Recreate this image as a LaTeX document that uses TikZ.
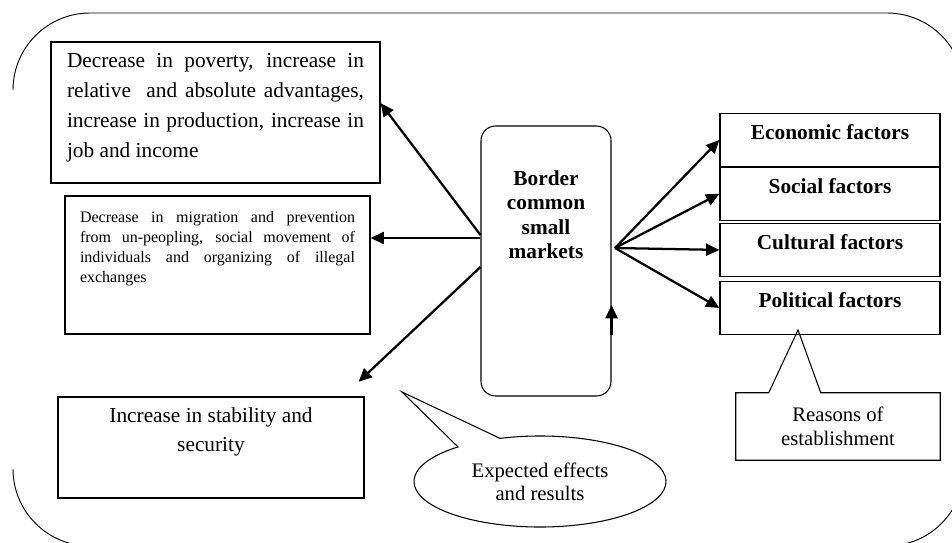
\documentclass[tikz,border=0pt]{standalone}
\usepackage{fontspec}
\setmainfont{Liberation Serif}
\usetikzlibrary{arrows.meta,positioning,shapes.geometric}
\tikzset{
  frame line/.style={draw=black, line width=0.7pt},
  effect box/.style={draw=black, line width=0.9pt, rectangle},
  hub box/.style={draw=black, line width=0.8pt, rounded corners=11pt},
  factor box/.style={draw=black, line width=0.9pt, minimum width=165pt,
    inner sep=0pt, text height=19.5pt, text depth=20pt,
    font=\fontsize{16}{18}\selectfont\bfseries},
  note text/.style={align=center, inner sep=0pt,
    font=\fontsize{15.5}{18}\selectfont},
  note line/.style={draw=black, line width=0.8pt},
  link/.style={line width=1.7pt, -{Triangle[length=10pt, width=9pt]}},
}

\begin{document}
\begin{tikzpicture}[x=0.75pt, y=-0.75pt]
  \path[use as bounding box, clip] (0,0) rectangle (952,542);

  % Outer frame, the left side stays open.
  \draw[frame line] (13,90) arc[start angle=180, end angle=270, radius=77]
    -- (887,13) arc[start angle=270, end angle=360, radius=77]
    -- (964,469) arc[start angle=0, end angle=90, radius=77]
    -- (90,546) arc[start angle=90, end angle=180, radius=77];

  % Expected effects on the left.
  \node[effect box, inner xsep=12pt, inner ysep=8.6pt] (poverty) at (215.5,112.5)
    {\parbox[c][88.5pt][t]{222.75pt}{\fontsize{16}{22.5}\selectfont
      Decrease in poverty, increase in\linebreak
      relative\ \ and absolute advantages,\linebreak
      increase in production, increase in\linebreak
      job and income}};
  \node[effect box, inner xsep=11.25pt, inner ysep=11.3pt] (migration) at (217.5,265)
    {\parbox[c][80.9pt][t]{206.25pt}{\fontsize{12}{15}\selectfont
      Decrease in migration and prevention\linebreak
      from un-peopling, social movement of\linebreak
      individuals and organizing of illegal\linebreak
      exchanges}};
  \node[effect box, inner xsep=8pt, inner ysep=7.85pt] (security) at (211,447.5)
    {\parbox[c][60pt][t]{213.5pt}{\centering\fontsize{16}{21.75}\selectfont
      Increase in stability and\\ security}};

  % The markets in the middle.
  \node[hub box, inner xsep=6pt, inner ysep=33.3pt] (hub) at (546,261)
    {\parbox[c][135.9pt][t]{85.5pt}{\centering\fontsize{16}{18.4}\selectfont\bfseries
      Border\\ common\\ small\\ markets}};

  % Reasons on the right.
  \node[factor box, anchor=north] (economic) at (830,113) {Economic factors};
  \node[factor box, below=0pt of economic] (social) {Social factors};
  \node[factor box, anchor=north] (cultural) at (830,223) {Cultural factors};
  \node[factor box, anchor=north] (political) at (830,281) {Political factors};

  % Callouts.
  \node[note text, minimum width=153pt, minimum height=50.25pt] (reasons)
    at (838,426.5) {Reasons of\\ establishment};
  \coordinate (reasons tip) at (798,330);
  \draw[note line] (reasons.north west) -- ([xshift=24.75pt]reasons.north west)
    -- (reasons tip) -- ([xshift=63.75pt]reasons.north west)
    -- (reasons.north east) -- (reasons.south east) -- (reasons.south west) -- cycle;

  \node[note text, ellipse, minimum width=189pt, minimum height=68.25pt,
    font=\fontsize{15.5}{17.25}\selectfont] (expected) at (540,481.5)
    {Expected effects\\ and results};
  \coordinate (expected tip) at (402,392);
  \draw[note line] (expected.center) ++(251.5:126 and 45.5)
    arc[start angle=251.5, end angle=589.4, x radius=126, y radius=45.5]
    -- (expected tip) -- cycle;

  % Arrows.
  \coordinate (fan) at (615,248);
  \foreach \f in {economic, social, cultural, political}
    \draw[link] (fan) -- (\f.west);

  \draw[link] ([yshift=19.5pt]hub.west) -- ([yshift=7pt]poverty.east);
  \coordinate (mid left) at ([yshift=17.25pt]hub.west);
  \draw[link] (mid left) -- (mid left -| migration.east);
  \draw[link] ([yshift=-4.5pt]hub.west) -- ([shift={(-4.5pt,11pt)}]security.north east);
  \draw[link] ([yshift=-55.5pt]hub.east) -- ([yshift=-33pt]hub.east);
\end{tikzpicture}
\end{document}
